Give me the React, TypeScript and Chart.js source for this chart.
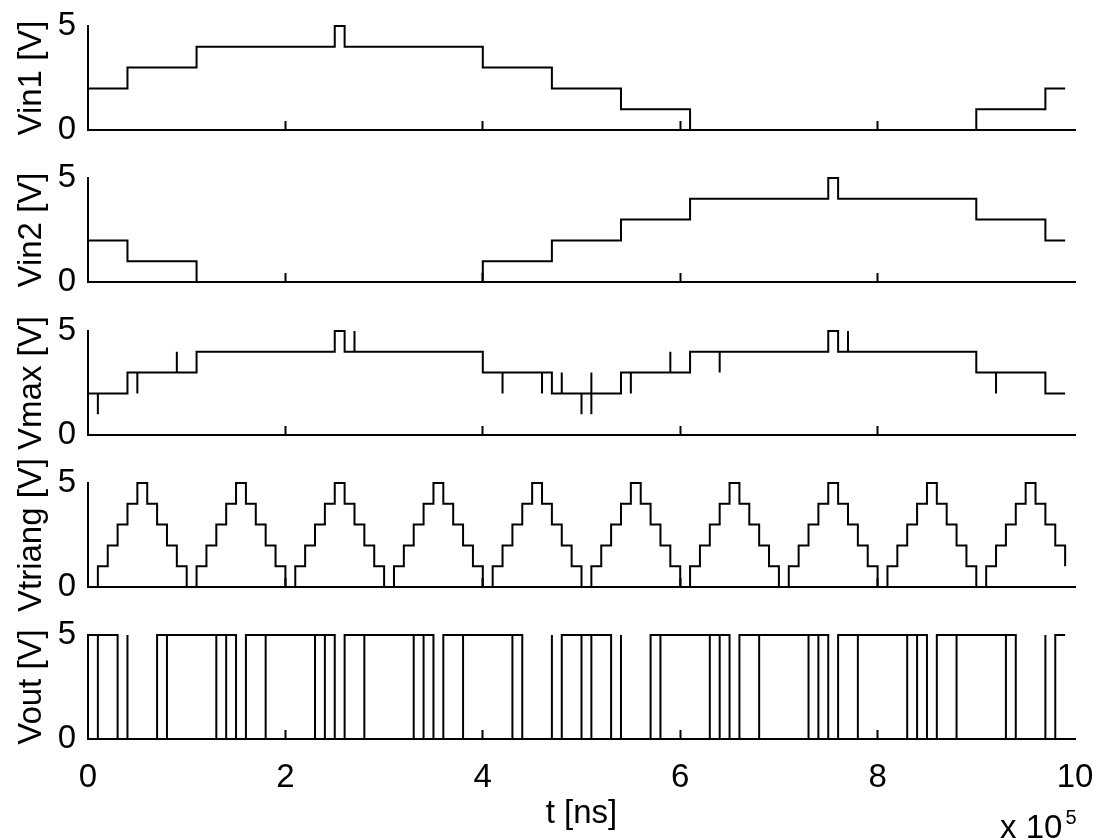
import React, { useEffect, useRef } from 'react';
import { Chart, registerables } from 'chart.js';

Chart.register(...registerables);

// ---- data (time in units of 1e5 ns, voltages in V) ----
const xTickValues = [0, 2, 4, 6, 8, 10];
const yTickValues = [0, 5];
const xTitle = 't [ns]';
const xExponentBase = 'x 10';
const xExponent = '5';
const panelLabels = ['Vin1 [V]', 'Vin2 [V]', 'Vmax [V]', 'Vtriang [V]', 'Vout [V]'];

// stepped series: each point = time at which the signal takes the value
const vin1Times = [0, 0.4, 1.1, 2.5, 2.6, 4.0, 4.7, 5.4, 6.1, 9.0, 9.7, 9.9];
const vin1Values = [2, 3, 4, 5, 4, 3, 2, 1, 0, 1, 2, 2];

const vin2Times = [0, 0.4, 1.1, 4.0, 4.7, 5.4, 6.1, 7.5, 7.6, 9.0, 9.7, 9.9];
const vin2Values = [2, 1, 0, 1, 2, 3, 4, 5, 4, 3, 2, 2];

const vmaxTimes = [
  0, 0.1, 0.1, 0.4, 0.5, 0.5, 0.9, 0.9, 1.1, 2.5, 2.6, 2.7, 2.7, 4.0, 4.2, 4.2,
  4.6, 4.6, 4.7, 4.8, 4.8, 5.0, 5.0, 5.1, 5.1, 5.1, 5.4, 5.5, 5.5, 5.9, 5.9,
  6.1, 6.4, 6.4, 7.5, 7.6, 7.7, 7.7, 9.0, 9.2, 9.2, 9.7, 9.9,
];
const vmaxValues = [
  2, 1, 2, 3, 2, 3, 4, 3, 4, 5, 4, 5, 4, 3, 2, 3,
  2, 3, 2, 3, 2, 1, 2, 3, 1, 2, 3, 2, 3, 4, 3,
  4, 3, 4, 5, 4, 5, 4, 3, 2, 3, 2, 2,
];

const vtriangTimes = [
  0.0, 0.1, 0.2, 0.3, 0.4, 0.5, 0.6, 0.7, 0.8, 0.9,
  1.0, 1.1, 1.2, 1.3, 1.4, 1.5, 1.6, 1.7, 1.8, 1.9,
  2.0, 2.1, 2.2, 2.3, 2.4, 2.5, 2.6, 2.7, 2.8, 2.9,
  3.0, 3.1, 3.2, 3.3, 3.4, 3.5, 3.6, 3.7, 3.8, 3.9,
  4.0, 4.1, 4.2, 4.3, 4.4, 4.5, 4.6, 4.7, 4.8, 4.9,
  5.0, 5.1, 5.2, 5.3, 5.4, 5.5, 5.6, 5.7, 5.8, 5.9,
  6.0, 6.1, 6.2, 6.3, 6.4, 6.5, 6.6, 6.7, 6.8, 6.9,
  7.0, 7.1, 7.2, 7.3, 7.4, 7.5, 7.6, 7.7, 7.8, 7.9,
  8.0, 8.1, 8.2, 8.3, 8.4, 8.5, 8.6, 8.7, 8.8, 8.9,
  9.0, 9.1, 9.2, 9.3, 9.4, 9.5, 9.6, 9.7, 9.8, 9.9,
];
const vtriangValues = [
  0, 1, 2, 3, 4, 5, 4, 3, 2, 1,
  0, 1, 2, 3, 4, 5, 4, 3, 2, 1,
  0, 1, 2, 3, 4, 5, 4, 3, 2, 1,
  0, 1, 2, 3, 4, 5, 4, 3, 2, 1,
  0, 1, 2, 3, 4, 5, 4, 3, 2, 1,
  0, 1, 2, 3, 4, 5, 4, 3, 2, 1,
  0, 1, 2, 3, 4, 5, 4, 3, 2, 1,
  0, 1, 2, 3, 4, 5, 4, 3, 2, 1,
  0, 1, 2, 3, 4, 5, 4, 3, 2, 1,
  0, 1, 2, 3, 4, 5, 4, 3, 2, 1,
];

const voutTimes = [
  0, 0.1, 0.1, 0.3, 0.4, 0.4, 0.7, 0.8, 0.8, 1.3, 1.3, 1.4, 1.4, 1.5, 1.6,
  1.8, 1.8, 2.3, 2.3, 2.4, 2.4, 2.5, 2.6, 2.8, 2.8, 3.3, 3.3, 3.4, 3.4, 3.5, 3.6,
  3.8, 3.8, 4.3, 4.3, 4.4, 4.7, 4.7, 4.8, 5.0, 5.0, 5.1, 5.1, 5.3, 5.4, 5.4, 5.7,
  5.8, 5.8, 6.3, 6.3, 6.4, 6.4, 6.5, 6.6, 6.8, 6.8, 7.3, 7.3, 7.4, 7.4, 7.5, 7.6,
  7.8, 7.8, 8.3, 8.3, 8.4, 8.4, 8.5, 8.6, 8.8, 8.8, 9.3, 9.3, 9.4, 9.7, 9.7, 9.8, 9.9,
];
const voutValues = [
  5, 0, 5, 0, 5, 0, 5, 0, 5, 0, 5, 0, 5, 0, 5,
  0, 5, 0, 5, 0, 5, 0, 5, 0, 5, 0, 5, 0, 5, 0, 5,
  0, 5, 0, 5, 0, 5, 0, 5, 0, 5, 0, 5, 0, 5, 0, 5,
  0, 5, 0, 5, 0, 5, 0, 5, 0, 5, 0, 5, 0, 5, 0, 5,
  0, 5, 0, 5, 0, 5, 0, 5, 0, 5, 0, 5, 0, 5, 0, 5, 5,
];

const seriesTimes = [vin1Times, vin2Times, vmaxTimes, vtriangTimes, voutTimes];
const seriesValues = [vin1Values, vin2Values, vmaxValues, vtriangValues, voutValues];

// ---- layout ----
const PAGE_W = 1100;
const PAGE_H = 840;
const AXIS_LEFT = 88;
const AXIS_RIGHT_PAD = 25;
const PAD_TOP = 40;
const PAD_BOTTOM = 40;
const X_LABEL_OFFSET = 48; // distance from axis (minus tick) to label centre
const panelTops = [26, 178, 331, 483, 635];
const panelBottoms = [130, 282, 435, 587, 739];

const FONT_FAMILY = "'Liberation Sans', Arial, Helvetica, sans-serif";
const FONT_SIZE = 33;
const baseFont = { family: FONT_FAMILY, size: FONT_SIZE, weight: 'normal' as const, lineHeight: 1.2 };

function Panel({ index }: { index: number }) {
  const ref = useRef<HTMLCanvasElement>(null);
  const last = index === panelLabels.length - 1;
  const top = panelTops[index];
  const bottom = panelBottoms[index];
  const bottomH = last ? PAGE_H - bottom : PAD_BOTTOM;
  const height = PAD_TOP + (bottom - top) + bottomH;

  useEffect(() => {
    if (!ref.current) return;
    const times = seriesTimes[index];
    const values = seriesValues[index];
    const chart = new Chart(ref.current, {
      type: 'line',
      data: {
        datasets: [
          {
            data: times.map((t, i) => ({ x: t, y: values[i] })),
            borderColor: '#000',
            borderWidth: 2,
            pointRadius: 0,
            stepped: 'before',
            fill: false,
            tension: 0,
            clip: false as any,
          },
        ],
      },
      options: {
        animation: false,
        responsive: false,
        events: [],
        layout: { padding: { top: PAD_TOP, left: 0, right: AXIS_RIGHT_PAD, bottom: 0 } },
        plugins: {
          legend: { display: false },
          tooltip: { enabled: false },
          title: { display: false },
        },
        scales: {
          x: {
            type: 'linear',
            position: 'bottom',
            min: 0,
            max: 10,
            afterFit: (s: any) => {
              s.height = bottomH;
            },
            afterBuildTicks: (s: any) => {
              s.ticks = xTickValues.map((v) => ({ value: v }));
            },
            ticks: {
              display: last,
              autoSkip: false,
              maxRotation: 0,
              padding: 0,
              color: '#000',
              font: { ...baseFont, lineHeight: (2 * X_LABEL_OFFSET) / FONT_SIZE },
              callback: (v: any) => String(v),
            },
            grid: {
              display: true,
              drawOnChartArea: false,
              drawTicks: true,
              tickLength: -9,
              tickWidth: 2,
              tickColor: (ctx: any) =>
                ctx.tick && (ctx.tick.value === 0 || ctx.tick.value === 10) ? 'rgba(0,0,0,0)' : '#000',
            },
            border: { display: true, color: '#000', width: 2 },
            title: {
              display: last,
              text: xTitle,
              color: '#000',
              font: { ...baseFont, lineHeight: 1 },
              padding: { top: 0, bottom: 10 },
            },
          },
          y: {
            type: 'linear',
            min: 0,
            max: 5,
            afterFit: (s: any) => {
              s.width = AXIS_LEFT;
            },
            afterBuildTicks: (s: any) => {
              s.ticks = yTickValues.map((v) => ({ value: v }));
            },
            ticks: { padding: 12, color: '#000', font: baseFont, autoSkip: false },
            grid: { display: false, drawTicks: false },
            border: { display: true, color: '#000', width: 2 },
            title: {
              display: true,
              text: panelLabels[index],
              color: '#000',
              font: baseFont,
              padding: { top: 12, bottom: 0 },
            },
          },
        },
      } as any,
    });
    return () => chart.destroy();
  }, [index]);

  return (
    <canvas
      ref={ref}
      width={PAGE_W}
      height={height}
      style={{ position: 'absolute', left: 0, top: top - PAD_TOP, width: PAGE_W, height }}
    />
  );
}

export default function App() {
  return (
    <div
      style={{
        position: 'fixed',
        left: 0,
        top: 0,
        width: PAGE_W,
        height: PAGE_H,
        background: '#fff',
        overflow: 'hidden',
      }}
    >
      {panelLabels.map((_, i) => (
        <Panel key={i} index={i} />
      ))}
      <div
        style={{
          position: 'absolute',
          left: 1000,
          top: 810,
          fontFamily: FONT_FAMILY,
          fontSize: FONT_SIZE,
          lineHeight: '33px',
          color: '#000',
          whiteSpace: 'nowrap',
        }}
      >
        {xExponentBase}
        <span style={{ fontSize: 20, position: 'relative', top: -14, marginLeft: 3 }}>{xExponent}</span>
      </div>
    </div>
  );
}
